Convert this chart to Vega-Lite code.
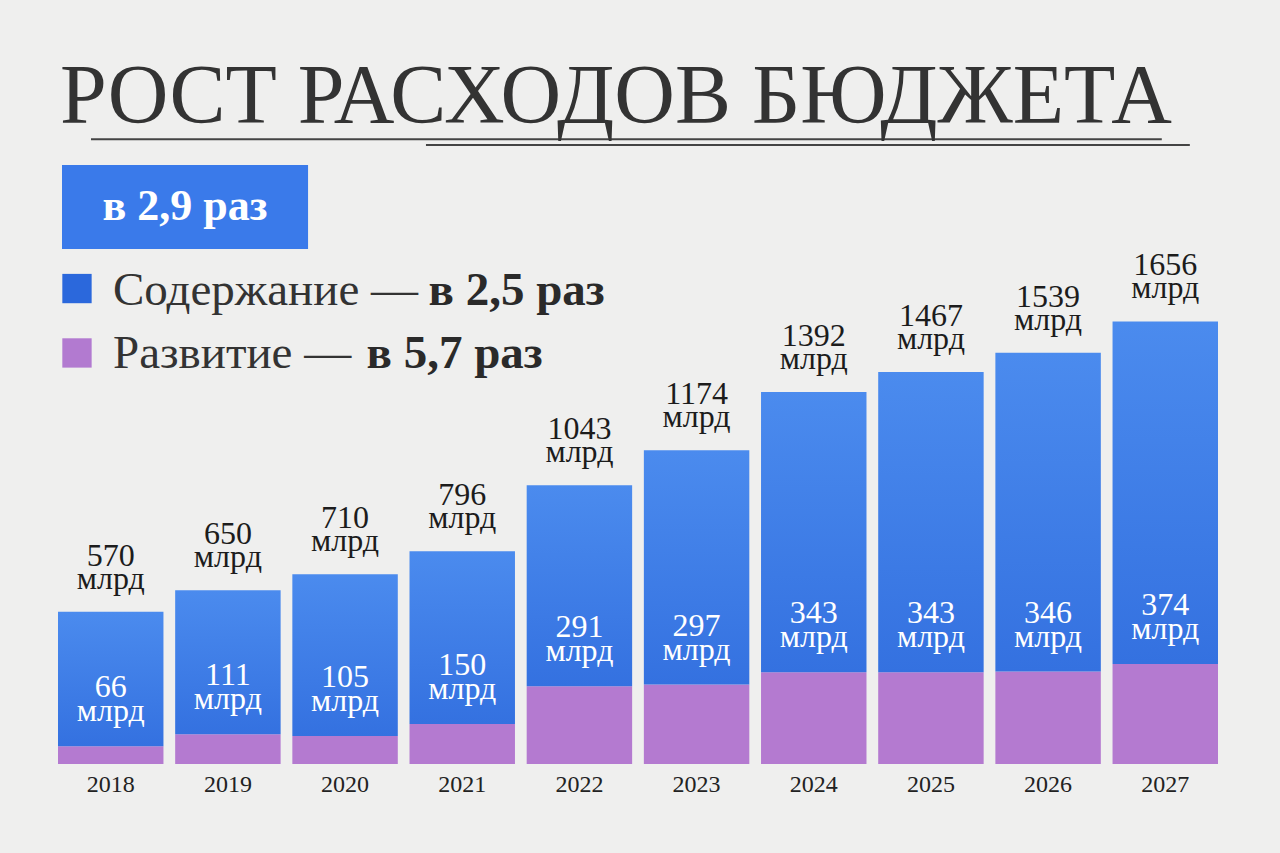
{
  "$schema": "https://vega.github.io/schema/vega-lite/v6.json",
  "width": 1160,
  "height": 604,
  "autosize": {"type": "none"},
  "padding": {"left": 58, "top": 160, "right": 62, "bottom": 89},
  "background": "#efefee",
  "config": {"view": {"stroke": null}},
  "title": {
    "text": "РОСТ РАСХОДОВ БЮДЖЕТА",
    "anchor": "start",
    "frame": "group",
    "font": "Liberation Serif",
    "fontSize": 84,
    "fontWeight": "normal",
    "color": "#333333",
    "baseline": "alphabetic",
    "offset": 35,
    "dx": 2,
    "dy": 104
  },
  "data": {
    "values": [
      {"year": "2018", "total": 570, "dev": 66},
      {"year": "2019", "total": 650, "dev": 111},
      {"year": "2020", "total": 710, "dev": 105},
      {"year": "2021", "total": 796, "dev": 150},
      {"year": "2022", "total": 1043, "dev": 291},
      {"year": "2023", "total": 1174, "dev": 297},
      {"year": "2024", "total": 1392, "dev": 343},
      {"year": "2025", "total": 1467, "dev": 343},
      {"year": "2026", "total": 1539, "dev": 346},
      {"year": "2027", "total": 1656, "dev": 374}
    ]
  },
  "encoding": {
    "x": {
      "field": "year",
      "type": "nominal",
      "scale": {"domain": ["2018","2019","2020","2021","2022","2023","2024","2025","2026","2027"], "paddingInner": 0.1, "paddingOuter": 0},
      "axis": {"title": null, "labelAngle": 0, "ticks": false, "domain": false, "labelFont": "Liberation Serif", "labelFontSize": 24, "labelColor": "#222222", "labelPadding": 8}
    }
  },
  "layer": [
    {
      "mark": {"type": "bar", "color": "#b47ad0"},
      "encoding": {
        "y": {"field": "dev", "type": "quantitative", "scale": {"domain": [0, 2260], "nice": false}, "axis": null}
      }
    },
    {
      "mark": {"type": "bar", "color": {"gradient": "linear", "x1": 0, "y1": 0, "x2": 0, "y2": 1, "stops": [{"offset": 0, "color": "#4b8bee"}, {"offset": 1, "color": "#3471e0"}]}},
      "encoding": {
        "y": {"field": "total", "type": "quantitative"},
        "y2": {"field": "dev"}
      }
    },
    {
      "mark": {"type": "text", "font": "Liberation Serif", "fontSize": 32, "color": "#1c1c1c", "baseline": "alphabetic", "dy": -46},
      "encoding": {
        "y": {"field": "total", "type": "quantitative"},
        "text": {"field": "total", "type": "quantitative", "format": "d"}
      }
    },
    {
      "mark": {"type": "text", "font": "Liberation Serif", "fontSize": 32, "color": "#1c1c1c", "baseline": "alphabetic", "dy": -23, "text": "млрд"},
      "encoding": {
        "y": {"field": "total", "type": "quantitative"}
      }
    },
    {
      "mark": {"type": "text", "font": "Liberation Serif", "fontSize": 32, "color": "#ffffff", "baseline": "alphabetic", "dy": -49},
      "encoding": {
        "y": {"field": "dev", "type": "quantitative"},
        "text": {"field": "dev", "type": "quantitative", "format": "d"}
      }
    },
    {
      "mark": {"type": "text", "font": "Liberation Serif", "fontSize": 32, "color": "#ffffff", "baseline": "alphabetic", "dy": -25, "text": "млрд"},
      "encoding": {
        "y": {"field": "dev", "type": "quantitative"}
      }
    },
    {
      "data": {"values": [{}]},
      "mark": {"type": "rule", "color": "#444444", "strokeWidth": 2},
      "encoding": {
        "x": {"datum": "2018", "bandPosition": 0.313},
        "x2": {"datum": "2027", "bandPosition": 0.467},
        "y": {"datum": 2338}
      }
    },
    {
      "data": {"values": [{}]},
      "mark": {"type": "rule", "color": "#444444", "strokeWidth": 2},
      "encoding": {
        "x": {"datum": "2021", "bandPosition": 0.156},
        "x2": {"datum": "2027", "bandPosition": 0.733},
        "y": {"datum": 2316}
      }
    },
    {
      "data": {"values": [{}]},
      "mark": {"type": "rect", "color": "#3a7aea"},
      "encoding": {
        "x": {"datum": "2018", "bandPosition": 0.038},
        "x2": {"datum": "2020", "bandPosition": 0.149},
        "y": {"datum": 2241},
        "y2": {"datum": 1927}
      }
    },
    {
      "data": {"values": [{}]},
      "mark": {"type": "text", "text": "в 2,9 раз", "font": "Liberation Serif", "fontSize": 44, "fontWeight": "bold", "color": "#ffffff", "align": "center", "baseline": "alphabetic"},
      "encoding": {
        "x": {"datum": "2019", "bandPosition": 0.093},
        "y": {"datum": 2035}
      }
    },
    {
      "data": {"values": [{}]},
      "mark": {"type": "point", "shape": "square", "filled": true, "size": 860, "opacity": 1, "color": "#2b68dc"},
      "encoding": {
        "x": {"datum": "2018", "bandPosition": 0.18},
        "y": {"datum": 1779}
      }
    },
    {
      "data": {"values": [{}]},
      "mark": {"type": "point", "shape": "square", "filled": true, "size": 860, "opacity": 1, "color": "#b27ad0"},
      "encoding": {
        "x": {"datum": "2018", "bandPosition": 0.18},
        "y": {"datum": 1538}
      }
    },
    {
      "data": {"values": [{}]},
      "mark": {"type": "text", "text": "Содержание —", "font": "Liberation Serif", "fontSize": 47, "color": "#333333", "align": "left", "baseline": "alphabetic"},
      "encoding": {
        "x": {"datum": "2018", "bandPosition": 0.5216},
        "y": {"datum": 1717}
      }
    },
    {
      "data": {"values": [{}]},
      "mark": {"type": "text", "text": "в 2,5 раз", "font": "Liberation Serif", "fontSize": 47, "fontWeight": "bold", "color": "#2a2a2a", "align": "left", "baseline": "alphabetic"},
      "encoding": {
        "x": {"datum": "2021", "bandPosition": 0.18},
        "y": {"datum": 1717}
      }
    },
    {
      "data": {"values": [{}]},
      "mark": {"type": "text", "text": "Развитие —", "font": "Liberation Serif", "fontSize": 47, "color": "#333333", "align": "left", "baseline": "alphabetic"},
      "encoding": {
        "x": {"datum": "2018", "bandPosition": 0.5216},
        "y": {"datum": 1482}
      }
    },
    {
      "data": {"values": [{}]},
      "mark": {"type": "text", "text": "в 5,7 раз", "font": "Liberation Serif", "fontSize": 47, "fontWeight": "bold", "color": "#2a2a2a", "align": "left", "baseline": "alphabetic"},
      "encoding": {
        "x": {"datum": "2020", "bandPosition": 0.704},
        "y": {"datum": 1482}
      }
    }
  ]
}
